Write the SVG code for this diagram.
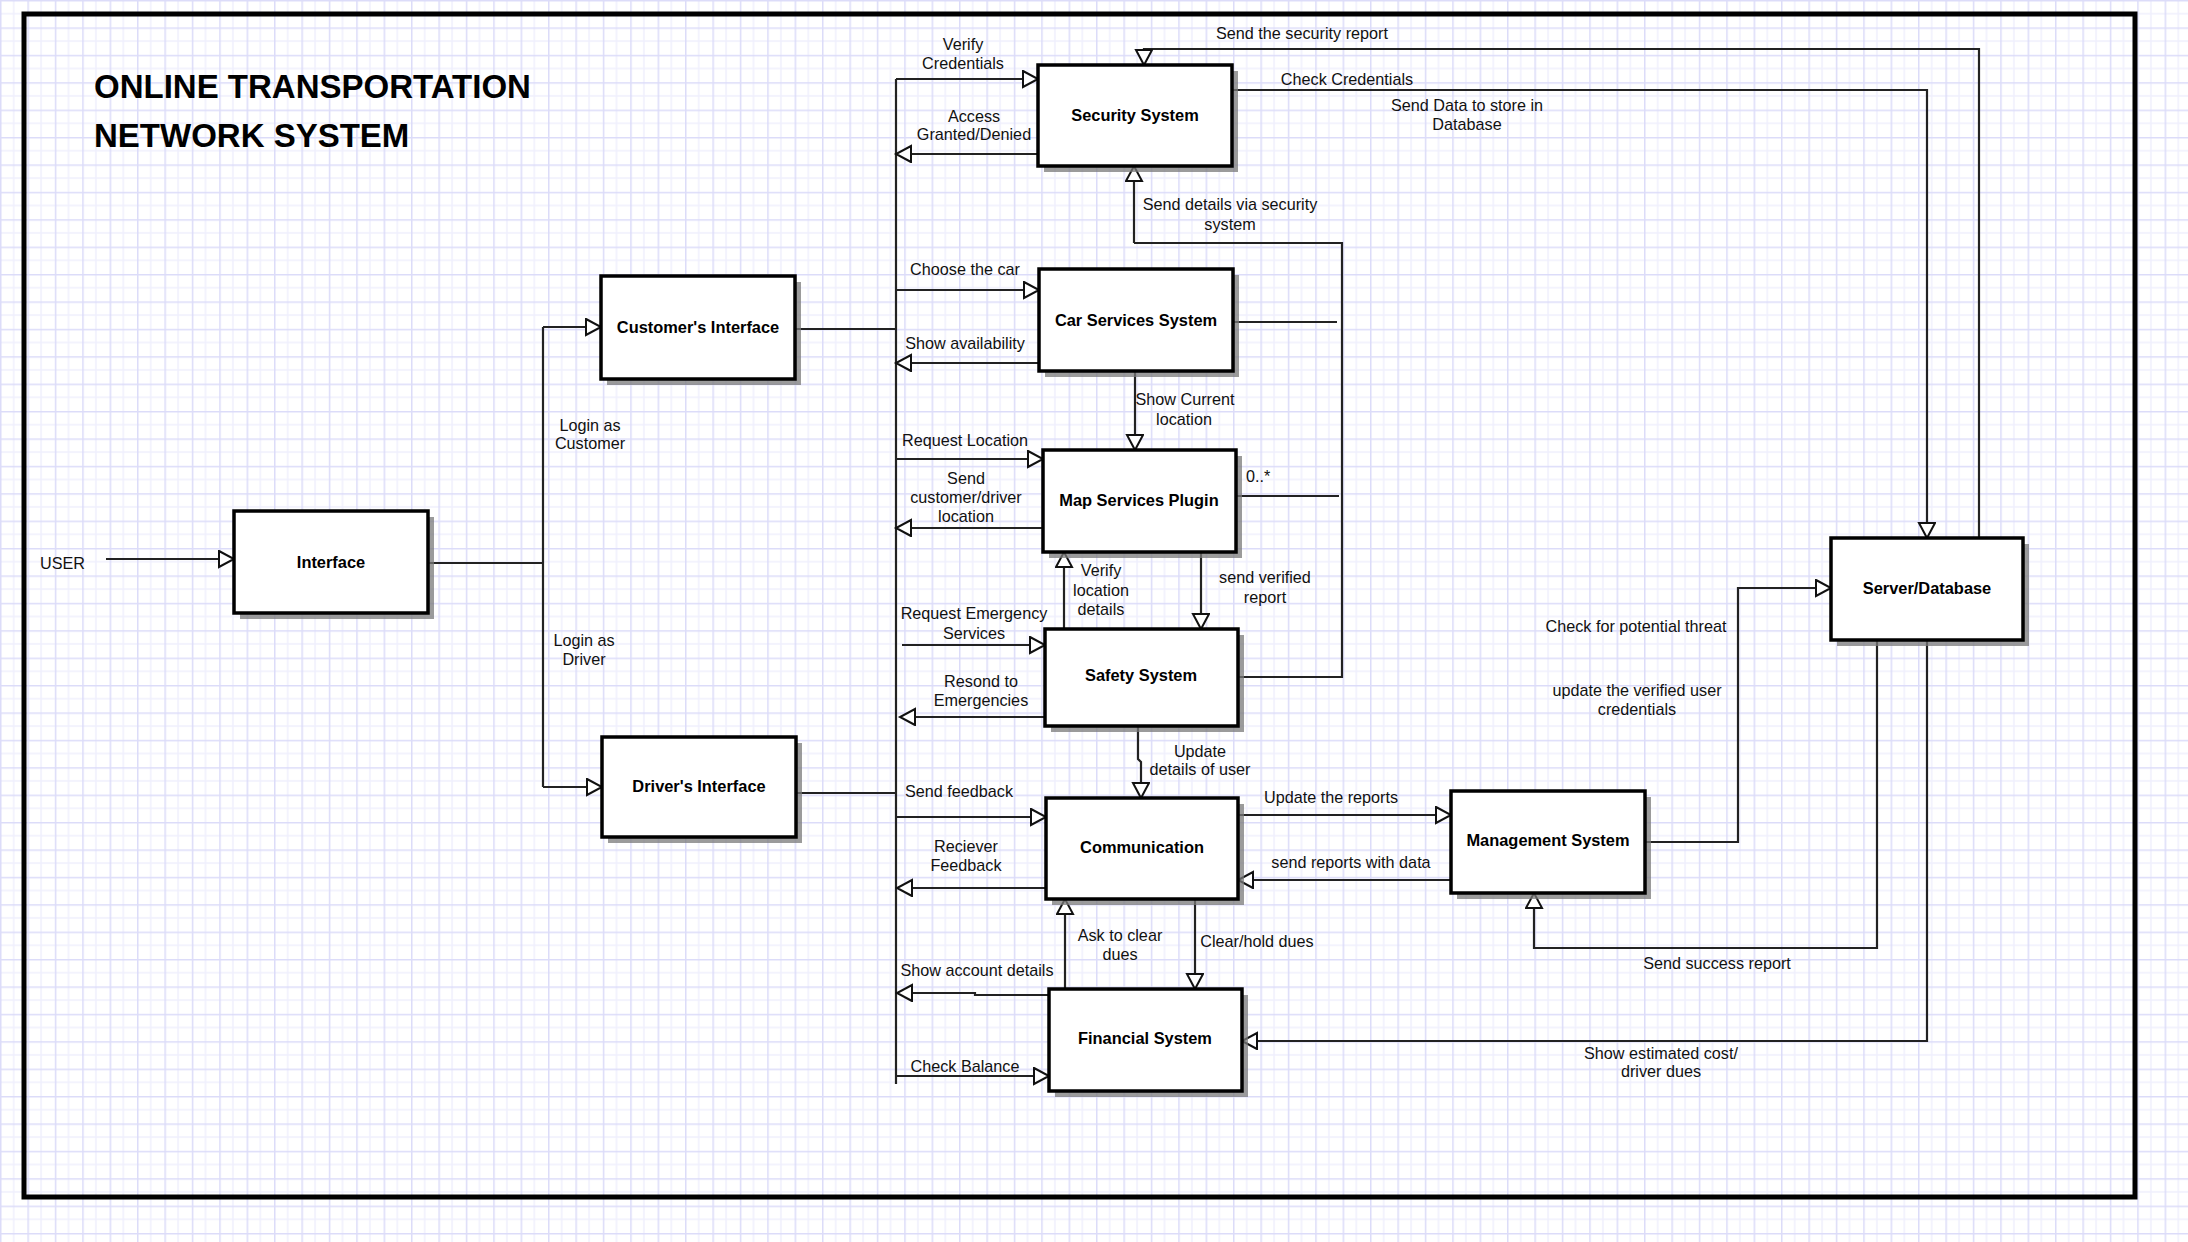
<svg xmlns="http://www.w3.org/2000/svg" width="2188" height="1242" viewBox="0 0 2188 1242">
<defs>
<pattern id="grid" width="27.4" height="27.4" patternUnits="userSpaceOnUse">
<rect width="27.4" height="27.4" fill="#ffffff"/>
<path d="M13.7,0 V27.4 M0,13.7 H27.4" stroke="#f0f0fd" stroke-width="1.5" fill="none"/>
<path d="M0.75,0 V27.4 M0,0.75 H27.4" stroke="#dcdcf9" stroke-width="1.5" fill="none"/>
</pattern>
<marker id="arr" markerUnits="userSpaceOnUse" markerWidth="22" markerHeight="22" refX="17" refY="9" orient="auto">
<path d="M2,1 L17,9 L2,17 Z" fill="#ffffff" stroke="#111" stroke-width="2" stroke-linejoin="miter"/>
</marker>
</defs>
<style>
.node rect.box{fill:#ffffff;stroke:#000;stroke-width:3.5}
.node rect.sh{fill:#7a7a7a;opacity:0.75}
.node text{font-family:"Liberation Sans",Arial,sans-serif;font-weight:bold;font-size:16.4px;fill:#000;text-anchor:middle;dominant-baseline:central}
#connectors path{fill:none;stroke:#222;stroke-width:2.2}
#connectors path.a{marker-end:url(#arr)}
.lbl{font-family:"Liberation Sans",Arial,sans-serif;font-size:16.2px;fill:#111;text-anchor:middle;dominant-baseline:central}
.title{font-family:"Liberation Sans",Arial,sans-serif;font-weight:bold;font-size:33px;fill:#000}
</style>
<rect width="2188" height="1242" fill="url(#grid)"/>
<rect x="24" y="14" width="2111" height="1183" fill="none" stroke="#000" stroke-width="5"/>
<text class="title" x="94" y="98">ONLINE TRANSPORTATION</text>
<text class="title" x="94" y="147">NETWORK SYSTEM</text>

<g id="connectors">
<path class="a" d="M106,559 H234"/>
<path d="M428,563 H543 M543,327 V787"/>
<path class="a" d="M543,327 H601"/>
<path class="a" d="M543,787 H602"/>
<path d="M795,329 H896"/>
<path d="M796,793 H896"/>
<path d="M896,79 V1084"/>
<path class="a" d="M896,79 H1038"/>
<path class="a" d="M1038,154 H896"/>
<path class="a" d="M896,290 H1039"/>
<path class="a" d="M1039,363 H896"/>
<path class="a" d="M896,459 H1043"/>
<path class="a" d="M1043,528 H896"/>
<path class="a" d="M902,645 H1045"/>
<path class="a" d="M1045,717 H900"/>
<path class="a" d="M896,817 H1046"/>
<path class="a" d="M1046,888 H897"/>
<path class="a" d="M1049,995 H975 V993 H897"/>
<path class="a" d="M896,1076 H1049"/>
<path d="M1238,677 H1342 V243 H1134"/>
<path class="a" d="M1134,243 V166"/>
<path d="M1233,322 H1337"/>
<path d="M1236,496 H1339"/>
<path class="a" d="M1135,371 V450"/>
<path class="a" d="M1064,629 V552"/>
<path class="a" d="M1201,552 V629"/>
<path class="a" d="M1138,726 V759 L1141,762 V798"/>
<path class="a" d="M1065,989 V899"/>
<path class="a" d="M1195,899 V989"/>
<path class="a" d="M1238,815 H1451"/>
<path class="a" d="M1451,880 H1238"/>
<path class="a" d="M1877,640 V948 H1534 V893"/>
<path class="a" d="M1927,640 V1041 H1242"/>
<path class="a" d="M1645,842 H1738 V588 H1831"/>
<path class="a" d="M1979,538 V49 H1144 V65"/>
<path class="a" d="M1232,90 H1927 V538"/>
</g>

<g id="interface" class="node"><rect class="sh" x="240" y="517" width="194" height="102"/><rect class="box" x="234" y="511" width="194" height="102"/><text x="331" y="562">Interface</text></g>
<g id="customers-interface" class="node"><rect class="sh" x="607" y="282" width="194" height="103"/><rect class="box" x="601" y="276" width="194" height="103"/><text x="698" y="327">Customer's Interface</text></g>
<g id="drivers-interface" class="node"><rect class="sh" x="608" y="743" width="194" height="100"/><rect class="box" x="602" y="737" width="194" height="100"/><text x="699" y="786">Driver's Interface</text></g>
<g id="security-system" class="node"><rect class="sh" x="1044" y="71" width="194" height="101"/><rect class="box" x="1038" y="65" width="194" height="101"/><text x="1135" y="115">Security System</text></g>
<g id="car-services-system" class="node"><rect class="sh" x="1045" y="275" width="194" height="102"/><rect class="box" x="1039" y="269" width="194" height="102"/><text x="1136" y="320">Car Services System</text></g>
<g id="map-services-plugin" class="node"><rect class="sh" x="1049" y="456" width="193" height="102"/><rect class="box" x="1043" y="450" width="193" height="102"/><text x="1139" y="500">Map Services Plugin</text></g>
<g id="safety-system" class="node"><rect class="sh" x="1051" y="635" width="193" height="97"/><rect class="box" x="1045" y="629" width="193" height="97"/><text x="1141" y="675">Safety System</text></g>
<g id="communication" class="node"><rect class="sh" x="1052" y="804" width="192" height="101"/><rect class="box" x="1046" y="798" width="192" height="101"/><text x="1142" y="847">Communication</text></g>
<g id="financial-system" class="node"><rect class="sh" x="1055" y="995" width="193" height="102"/><rect class="box" x="1049" y="989" width="193" height="102"/><text x="1145" y="1038">Financial System</text></g>
<g id="management-system" class="node"><rect class="sh" x="1457" y="797" width="194" height="102"/><rect class="box" x="1451" y="791" width="194" height="102"/><text x="1548" y="840">Management System</text></g>
<g id="server-database" class="node"><rect class="sh" x="1837" y="544" width="192" height="102"/><rect class="box" x="1831" y="538" width="192" height="102"/><text x="1927" y="588">Server/Database</text></g>

<g id="labels">
<text class="lbl" x="40" y="563" style="text-anchor:start">USER</text>
<text class="lbl" x="590" y="425">Login as</text>
<text class="lbl" x="590" y="443">Customer</text>
<text class="lbl" x="584" y="640">Login as</text>
<text class="lbl" x="584" y="659">Driver</text>
<text class="lbl" x="963" y="44">Verify</text>
<text class="lbl" x="963" y="63">Credentials</text>
<text class="lbl" x="974" y="116">Access</text>
<text class="lbl" x="974" y="134">Granted/Denied</text>
<text class="lbl" x="965" y="269">Choose the car</text>
<text class="lbl" x="965" y="343">Show availability</text>
<text class="lbl" x="965" y="440">Request Location</text>
<text class="lbl" x="966" y="478">Send</text>
<text class="lbl" x="966" y="497">customer/driver</text>
<text class="lbl" x="966" y="516">location</text>
<text class="lbl" x="974" y="613">Request Emergency</text>
<text class="lbl" x="974" y="633">Services</text>
<text class="lbl" x="981" y="681">Resond to</text>
<text class="lbl" x="981" y="700">Emergencies</text>
<text class="lbl" x="959" y="791">Send feedback</text>
<text class="lbl" x="966" y="846">Reciever</text>
<text class="lbl" x="966" y="865">Feedback</text>
<text class="lbl" x="977" y="970">Show account details</text>
<text class="lbl" x="965" y="1066">Check Balance</text>
<text class="lbl" x="1230" y="204">Send details via security</text>
<text class="lbl" x="1230" y="224">system</text>
<text class="lbl" x="1185" y="399">Show Current</text>
<text class="lbl" x="1184" y="419">location</text>
<text class="lbl" x="1246" y="476" style="text-anchor:start">0..*</text>
<text class="lbl" x="1101" y="570">Verify</text>
<text class="lbl" x="1101" y="590">location</text>
<text class="lbl" x="1101" y="609">details</text>
<text class="lbl" x="1265" y="577">send verified</text>
<text class="lbl" x="1265" y="597">report</text>
<text class="lbl" x="1200" y="751">Update</text>
<text class="lbl" x="1200" y="769">details of user</text>
<text class="lbl" x="1120" y="935">Ask to clear</text>
<text class="lbl" x="1120" y="954">dues</text>
<text class="lbl" x="1257" y="941">Clear/hold dues</text>
<text class="lbl" x="1331" y="797">Update the reports</text>
<text class="lbl" x="1351" y="862">send reports with data</text>
<text class="lbl" x="1717" y="963">Send success report</text>
<text class="lbl" x="1661" y="1053">Show estimated cost/</text>
<text class="lbl" x="1661" y="1071">driver dues</text>
<text class="lbl" x="1636" y="626">Check for potential threat</text>
<text class="lbl" x="1637" y="690">update the verified user</text>
<text class="lbl" x="1637" y="709">credentials</text>
<text class="lbl" x="1302" y="33">Send the security report</text>
<text class="lbl" x="1347" y="79">Check Credentials</text>
<text class="lbl" x="1467" y="105">Send Data to store in</text>
<text class="lbl" x="1467" y="124">Database</text>
</g>
</svg>
